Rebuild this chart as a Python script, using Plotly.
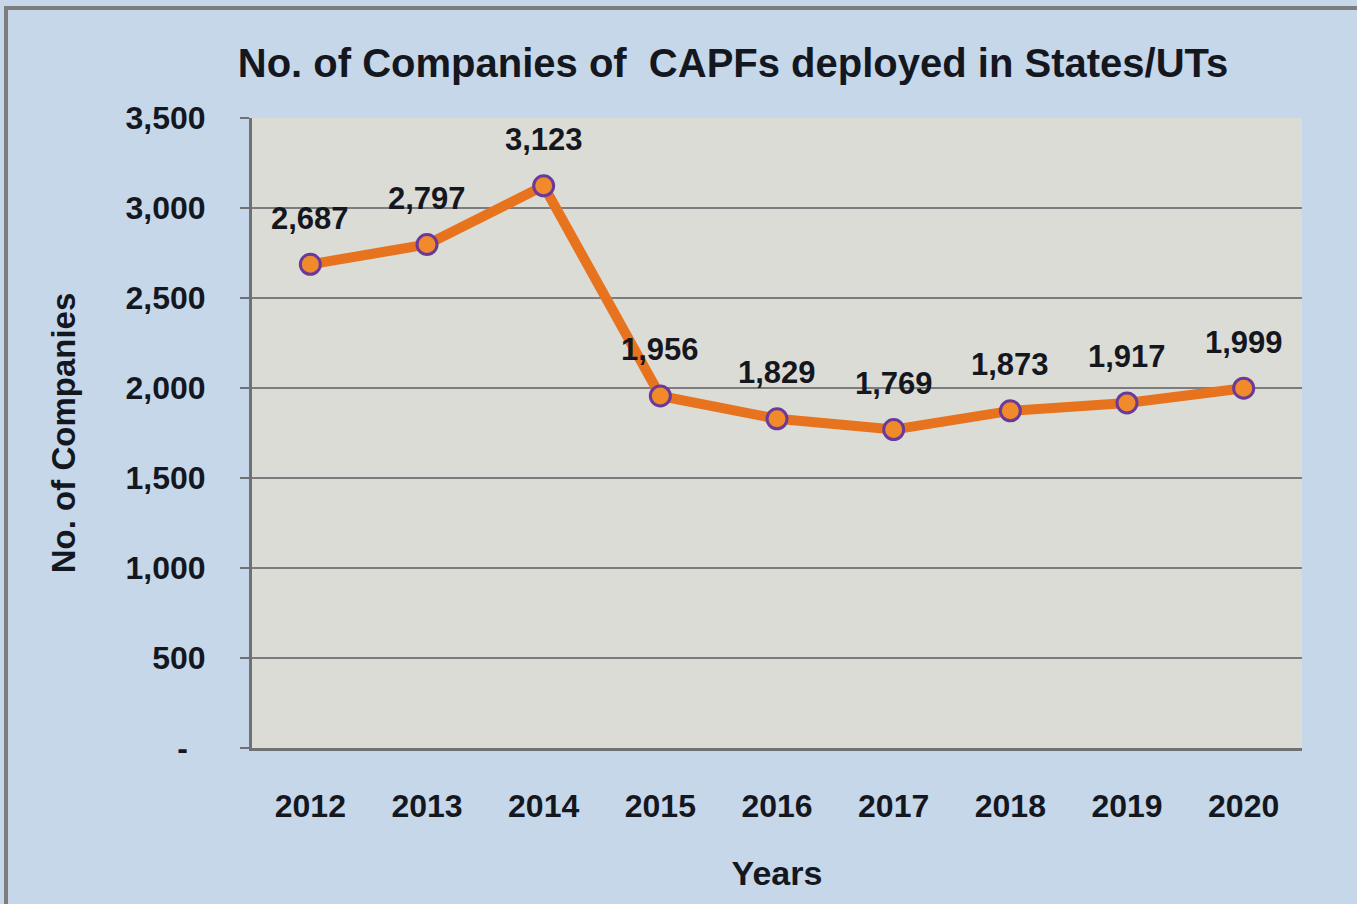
import plotly.graph_objects as go

years = ["2012", "2013", "2014", "2015", "2016", "2017", "2018", "2019", "2020"]
companies = [2687, 2797, 3123, 1956, 1829, 1769, 1873, 1917, 1999]
y_ticks = [0, 500, 1000, 1500, 2000, 2500, 3000, 3500]
y_tick_labels = ["-&nbsp;&nbsp;", "500", "1,000", "1,500", "2,000", "2,500", "3,000", "3,500"]

W, H = 1357, 904
L, R, T, B = 252, 55, 118, 156
pw, ph = W - L - R, H - T - B

fnt = "Liberation Sans, Arial, sans-serif"
txtc = "#15171f"

fig = go.Figure()
fig.add_trace(go.Scatter(
    x=years, y=companies, mode="lines+markers",
    line=dict(color="#e8731f", width=10),
    marker=dict(size=20, color="#f08a2a", line=dict(color="#6a3a9a", width=3)),
    hoverinfo="skip", showlegend=False,
))
for i, v in enumerate(companies):
    fig.add_annotation(x=i, y=v, xref="x", yref="y", text=f"<b>{v:,}</b>", showarrow=False,
                       yshift=46, font=dict(family=fnt, size=31, color=txtc))

fig.add_shape(type="rect", xref="paper", yref="paper",
              x0=(6 - L) / pw, x1=1 + 200 / pw, y0=-300 / ph, y1=(H - B - 8) / ph,
              line=dict(color="#7d7d7d", width=4), fillcolor="rgba(0,0,0,0)", layer="below")

fig.update_layout(
    width=W, height=H,
    margin=dict(l=L, r=R, t=T, b=B),
    paper_bgcolor="#c6d7ea",
    plot_bgcolor="#dcdcd6",
    title=dict(text="<b>No. of Companies of  CAPFs deployed in States/UTs</b>",
               x=733 / W, xanchor="center", y=1 - 63 / H, yanchor="middle",
               font=dict(family=fnt, size=40, color=txtc)),
    font=dict(family=fnt, color=txtc),
)
fig.update_xaxes(
    type="category", range=[-0.5, 8.5],
    showline=True, linecolor="#6f7275", linewidth=3,
    showgrid=False, ticks="", ticklen=0,
    tickfont=dict(family=fnt, size=32, color=txtc),
    ticklabelstandoff=28,
    title=dict(text="<b>Years</b>", font=dict(family=fnt, size=34, color=txtc), standoff=38),
    tickprefix="<b>", ticksuffix="</b>",
)
fig.update_yaxes(
    range=[0, 3500], tickvals=y_ticks, ticktext=[f"<b>{t}</b>" for t in y_tick_labels],
    showline=True, linecolor="#6f7275", linewidth=3,
    showgrid=True, gridcolor="#7a7c7e", gridwidth=2,
    ticks="outside", ticklen=9, tickcolor="#6f7275", tickwidth=2,
    tickfont=dict(family=fnt, size=32, color=txtc),
    ticklabelstandoff=28,
    title=dict(text="<b>No. of Companies</b>", font=dict(family=fnt, size=33, color=txtc), standoff=40),
    zeroline=False,
)
fig.write_html("out.html", config={"displayModeBar": False},
               post_script="document.body.style.margin='0';document.body.style.background='#c6d7ea';")
